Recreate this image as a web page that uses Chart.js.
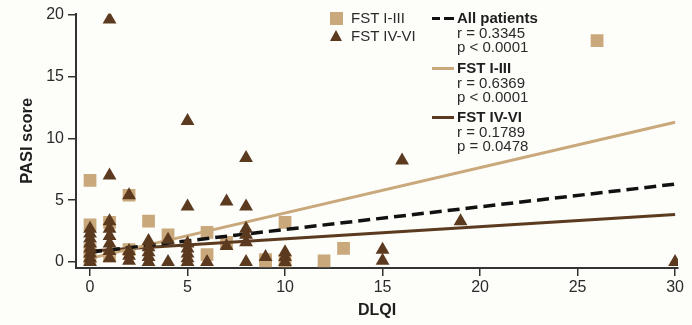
<!DOCTYPE html>
<html>
<head>
<meta charset="utf-8">
<script src="https://cdn.jsdelivr.net/npm/chart.js@4"></script>
<style>
    html, body { margin: 0; padding: 0; background: #fdfdf9; }
    #wrap { position: relative; width: 692px; height: 325px; font-family: "Liberation Sans", Arial, sans-serif; color: #2b2b2b; }
    #wrap canvas { position: absolute; left: 0; top: 0; }
    .lg { position: absolute; font-size: 15px; line-height: 14.6px; white-space: nowrap; }
    .lg b { font-weight: bold; color: #1e1e1e; }
    .sw { position: absolute; }
</style>
</head>
<body>
<div id="wrap">
    <canvas id="chart" width="692" height="325"></canvas>

    <!-- marker key -->
    <div class="sw" style="left:330px;top:12px;width:13px;height:13px;background:#c9a87c"></div>
    <div class="lg" style="left:351px;top:11px">FST I-III</div>
    <div class="sw" style="left:330px;top:30px;width:0;height:0;border-left:6.5px solid transparent;border-right:6.5px solid transparent;border-bottom:11px solid #5b3a1f"></div>
    <div class="lg" style="left:351px;top:29px">FST IV-VI</div>

    <!-- regression key -->
    <div class="sw" style="left:432px;top:17px;width:8px;height:3px;background:#111"></div>
    <div class="sw" style="left:444px;top:17px;width:10px;height:3px;background:#111"></div>
    <div class="lg" style="left:457px;top:11px"><b>All patients</b><br>r = 0.3345<br>p &lt; 0.0001</div>
    <div class="sw" style="left:432px;top:67px;width:22px;height:3px;background:#c9a87c"></div>
    <div class="lg" style="left:457px;top:61px"><b>FST I-III</b><br>r = 0.6369<br>p &lt; 0.0001</div>
    <div class="sw" style="left:432px;top:116px;width:22px;height:3px;background:#5b3a1f"></div>
    <div class="lg" style="left:457px;top:110px"><b>FST IV-VI</b><br>r = 0.1789<br>p = 0.0478</div>
</div>

<script>
/* ---------- data ---------- */
const xTicks = [0, 5, 10, 15, 20, 25, 30];
const yTicks = [0, 5, 10, 15, 20];

// FST I-III patients: DLQI / PASI
const fst13Dlqi = [0, 0, 0, 0, 1, 1, 2, 2, 3, 4, 6, 6, 7, 9, 9, 10, 10, 12, 13, 26];
const fst13Pasi = [6.6, 3.0, 1.0, 0.3, 3.2, 0.5, 5.4, 1.0, 3.3, 2.2, 2.4, 0.6, 1.6, 0.2, 0.1, 3.2, 0.1, 0.1, 1.1, 17.9];

// FST IV-VI patients: DLQI / PASI
const fst46Dlqi = [
    0, 0, 0, 0, 0, 0, 0, 0,
    1, 1, 1, 1, 1, 1, 1, 1,
    2, 2, 2, 2,
    3, 3, 3, 3, 3,
    4, 4,
    5, 5, 5, 5, 5, 5, 5,
    6,
    7, 7,
    8, 8, 8, 8, 8, 8,
    9,
    10, 10, 10,
    15, 15,
    16, 19, 30
];
const fst46Pasi = [
    2.7, 2.3, 1.9, 1.5, 1.1, 0.7, 0.3, 0.0,
    19.6, 7.0, 3.3, 2.7, 2.1, 1.5, 0.9, 0.3,
    5.4, 0.9, 0.5, 0.1,
    1.7, 1.2, 0.8, 0.4, 0.0,
    1.8, 0.0,
    11.4, 4.5, 1.5, 1.1, 0.7, 0.3, 0.0,
    0.0,
    4.9, 1.3,
    8.4, 4.5, 2.7, 2.2, 1.6, 0.0,
    0.4,
    0.8, 0.4, 0.0,
    1.0, 0.1,
    8.2, 3.3, 0.0
];

// regression lines, endpoints at DLQI 0 and 30
const fitX = [0, 30];
const fitAll = [0.8, 6.3];
const fitFst13 = [0.3, 11.3];
const fitFst46 = [0.9, 3.85];

/* ---------- colours ---------- */
const TAN = "#c9a87c";
const BROWN = "#5b3a1f";
const INK = "#2b2b2b";

const toPoints = (xs, ys) => xs.map((x, i) => ({ x: x, y: ys[i] }));

function fitLine(ys, color, dash, width, order) {
    return {
        type: "line",
        data: toPoints(fitX, ys),
        borderColor: color,
        borderWidth: width,
        borderDash: dash,
        pointRadius: 0,
        fill: false,
        order: order,
    };
}

const keepTicks = list => scale => {
    scale.ticks = list.map(v => ({ value: v }));
};

new Chart(document.getElementById("chart"), {
    type: "scatter",
    data: {
        datasets: [
            {
                label: "FST IV-VI",
                data: toPoints(fst46Dlqi, fst46Pasi),
                pointStyle: "triangle",
                pointRadius: 8,
                backgroundColor: BROWN,
                borderWidth: 0,
                order: 0,
            },
            fitLine(fitAll, "#111", [12, 6], 3.5, 1),
            fitLine(fitFst13, TAN, [], 3, 1),
            fitLine(fitFst46, BROWN, [], 3, 1),
            {
                label: "FST I-III",
                data: toPoints(fst13Dlqi, fst13Pasi),
                pointStyle: "rect",
                pointRadius: 9,
                backgroundColor: TAN,
                borderWidth: 0,
                order: 2,
            },
        ]
    },
    options: {
        responsive: false,
        animation: false,
        layout: { padding: { left: 0, right: 14, top: 11, bottom: 0 } },
        plugins: {
            legend: { display: false },
            tooltip: { enabled: false },
        },
        scales: {
            x: {
                type: "linear",
                min: -0.72,
                max: 30.15,
                afterBuildTicks: keepTicks(xTicks),
                afterFit: s => { s.height = 57; },
                grid: { drawOnChartArea: false, drawTicks: true, tickLength: 8, color: "#333", lineWidth: 1.5 },
                border: { display: true, color: "#333", width: 2 },
                ticks: { color: INK, font: { family: "Liberation Sans", size: 16 }, padding: 2, maxRotation: 0 },
                title: { display: true, text: "DLQI", color: "#1e1e1e", font: { family: "Liberation Sans", size: 16, weight: "bold" }, padding: { top: 6, bottom: 5 } },
            },
            y: {
                type: "linear",
                min: -0.48,
                max: 20.08,
                afterBuildTicks: keepTicks(yTicks),
                afterFit: s => { s.width = 76; },
                grid: { drawOnChartArea: false, drawTicks: true, tickLength: 8, color: "#333", lineWidth: 1.5 },
                border: { display: true, color: "#333", width: 2 },
                ticks: { color: INK, font: { family: "Liberation Sans", size: 16 }, padding: 4 },
                title: { display: true, text: "PASI score", color: "#1e1e1e", font: { family: "Liberation Sans", size: 16.5, weight: "bold" }, padding: { top: 18, bottom: 0 } },
            }
        }
    }
});
</script>
</body>
</html>
